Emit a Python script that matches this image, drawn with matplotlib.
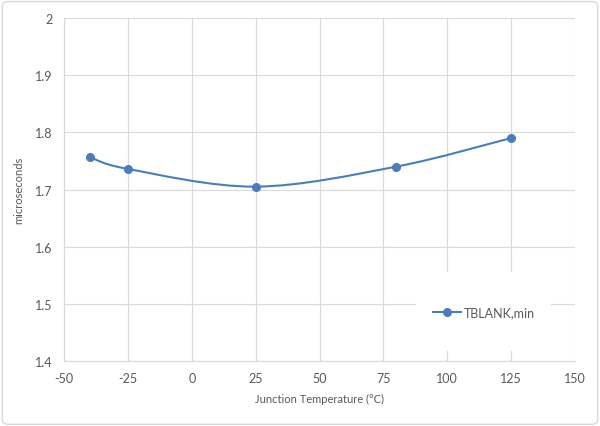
import matplotlib.pyplot as plt
from matplotlib.path import Path
from matplotlib.patches import PathPatch, Rectangle, FancyBboxPatch
from matplotlib.lines import Line2D

# Data
temps = [-40, -25, 25, 80, 125]
tblank_min = [1.757, 1.736, 1.705, 1.740, 1.790]
x_ticks = [-50, -25, 0, 25, 50, 75, 100, 125, 150]
y_ticks = [1.4, 1.5, 1.6, 1.7, 1.8, 1.9, 2.0]
y_ticklabels = ["1.4", "1.5", "1.6", "1.7", "1.8", "1.9", "2"]

LINE_COLOR = "#4A7EBB"
TEXT_COLOR = "#595959"
GRID_COLOR = "#D9D9D9"

plt.rcParams["font.family"] = ["Lato", "DejaVu Sans"]


def smooth_path(xs, ys, tension=1 / 6):
    # Excel-style smoothed line: Catmull-Rom segments as cubic Beziers
    n = len(xs)
    verts = [(xs[0], ys[0])]
    codes = [Path.MOVETO]
    for i in range(n - 1):
        x0, y0 = (xs[i - 1], ys[i - 1]) if i > 0 else (xs[i], ys[i])
        x1, y1 = xs[i], ys[i]
        x2, y2 = xs[i + 1], ys[i + 1]
        x3, y3 = (xs[i + 2], ys[i + 2]) if i + 2 < n else (x2, y2)
        c1 = (x1 + (x2 - x0) * tension, y1 + (y2 - y0) * tension)
        c2 = (x2 - (x3 - x1) * tension, y2 - (y3 - y1) * tension)
        verts += [c1, c2, (x2, y2)]
        codes += [Path.CURVE4] * 3
    return Path(verts, codes)


fig = plt.figure(figsize=(6.0, 4.27), dpi=100)
fig.patches.append(FancyBboxPatch((0.004, 0.004), 0.992, 0.99, boxstyle="round,pad=0,rounding_size=0.01",
                                  transform=fig.transFigure, facecolor="none", edgecolor="#D9D9D9",
                                  linewidth=1, zorder=-1))
ax = fig.add_axes([0.1067, 0.1522, 0.8516, 0.8033])
ax.set_facecolor("none")

ax.set_xlim(-50, 150)
ax.set_ylim(1.4, 2.0)
ax.set_xticks(x_ticks)
ax.set_xticklabels([str(t) for t in x_ticks])
ax.set_yticks(y_ticks)
ax.set_yticklabels(y_ticklabels)
ax.tick_params(length=0, labelsize=9, colors=TEXT_COLOR, pad=8)
ax.grid(True, color=GRID_COLOR, linewidth=0.8)
ax.set_axisbelow(True)
for side in ["top", "right"]:
    ax.spines[side].set_visible(False)
ax.spines["left"].set_color(GRID_COLOR)
ax.spines["bottom"].set_color(GRID_COLOR)

ax.add_patch(PathPatch(smooth_path(temps, tblank_min), facecolor="none", edgecolor=LINE_COLOR,
                       linewidth=1.5, zorder=3))
ax.plot(temps, tblank_min, linestyle="none", marker="o", markersize=5.5, color=LINE_COLOR, zorder=4)

ax.set_xlabel("Junction Temperature (°C)", fontsize=8, color=TEXT_COLOR, labelpad=6)
ax.set_ylabel("microseconds", fontsize=8, color=TEXT_COLOR, labelpad=8)

# legend sits on a white block covering the gridlines
ax.add_patch(Rectangle((0.689, 0.029), 0.264, 0.23, transform=ax.transAxes, facecolor="white",
                       edgecolor="none", zorder=2))
handle = Line2D([], [], color=LINE_COLOR, linewidth=1.5, marker="o", markersize=5.5)
leg = ax.legend([handle], ["TBLANK,min"], loc="center", bbox_to_anchor=(0.822, 0.143), frameon=False,
                fontsize=9, handlelength=2.2, handletextpad=0.2)
for t in leg.get_texts():
    t.set_color(TEXT_COLOR)

fig.savefig("out.png", dpi=100)
